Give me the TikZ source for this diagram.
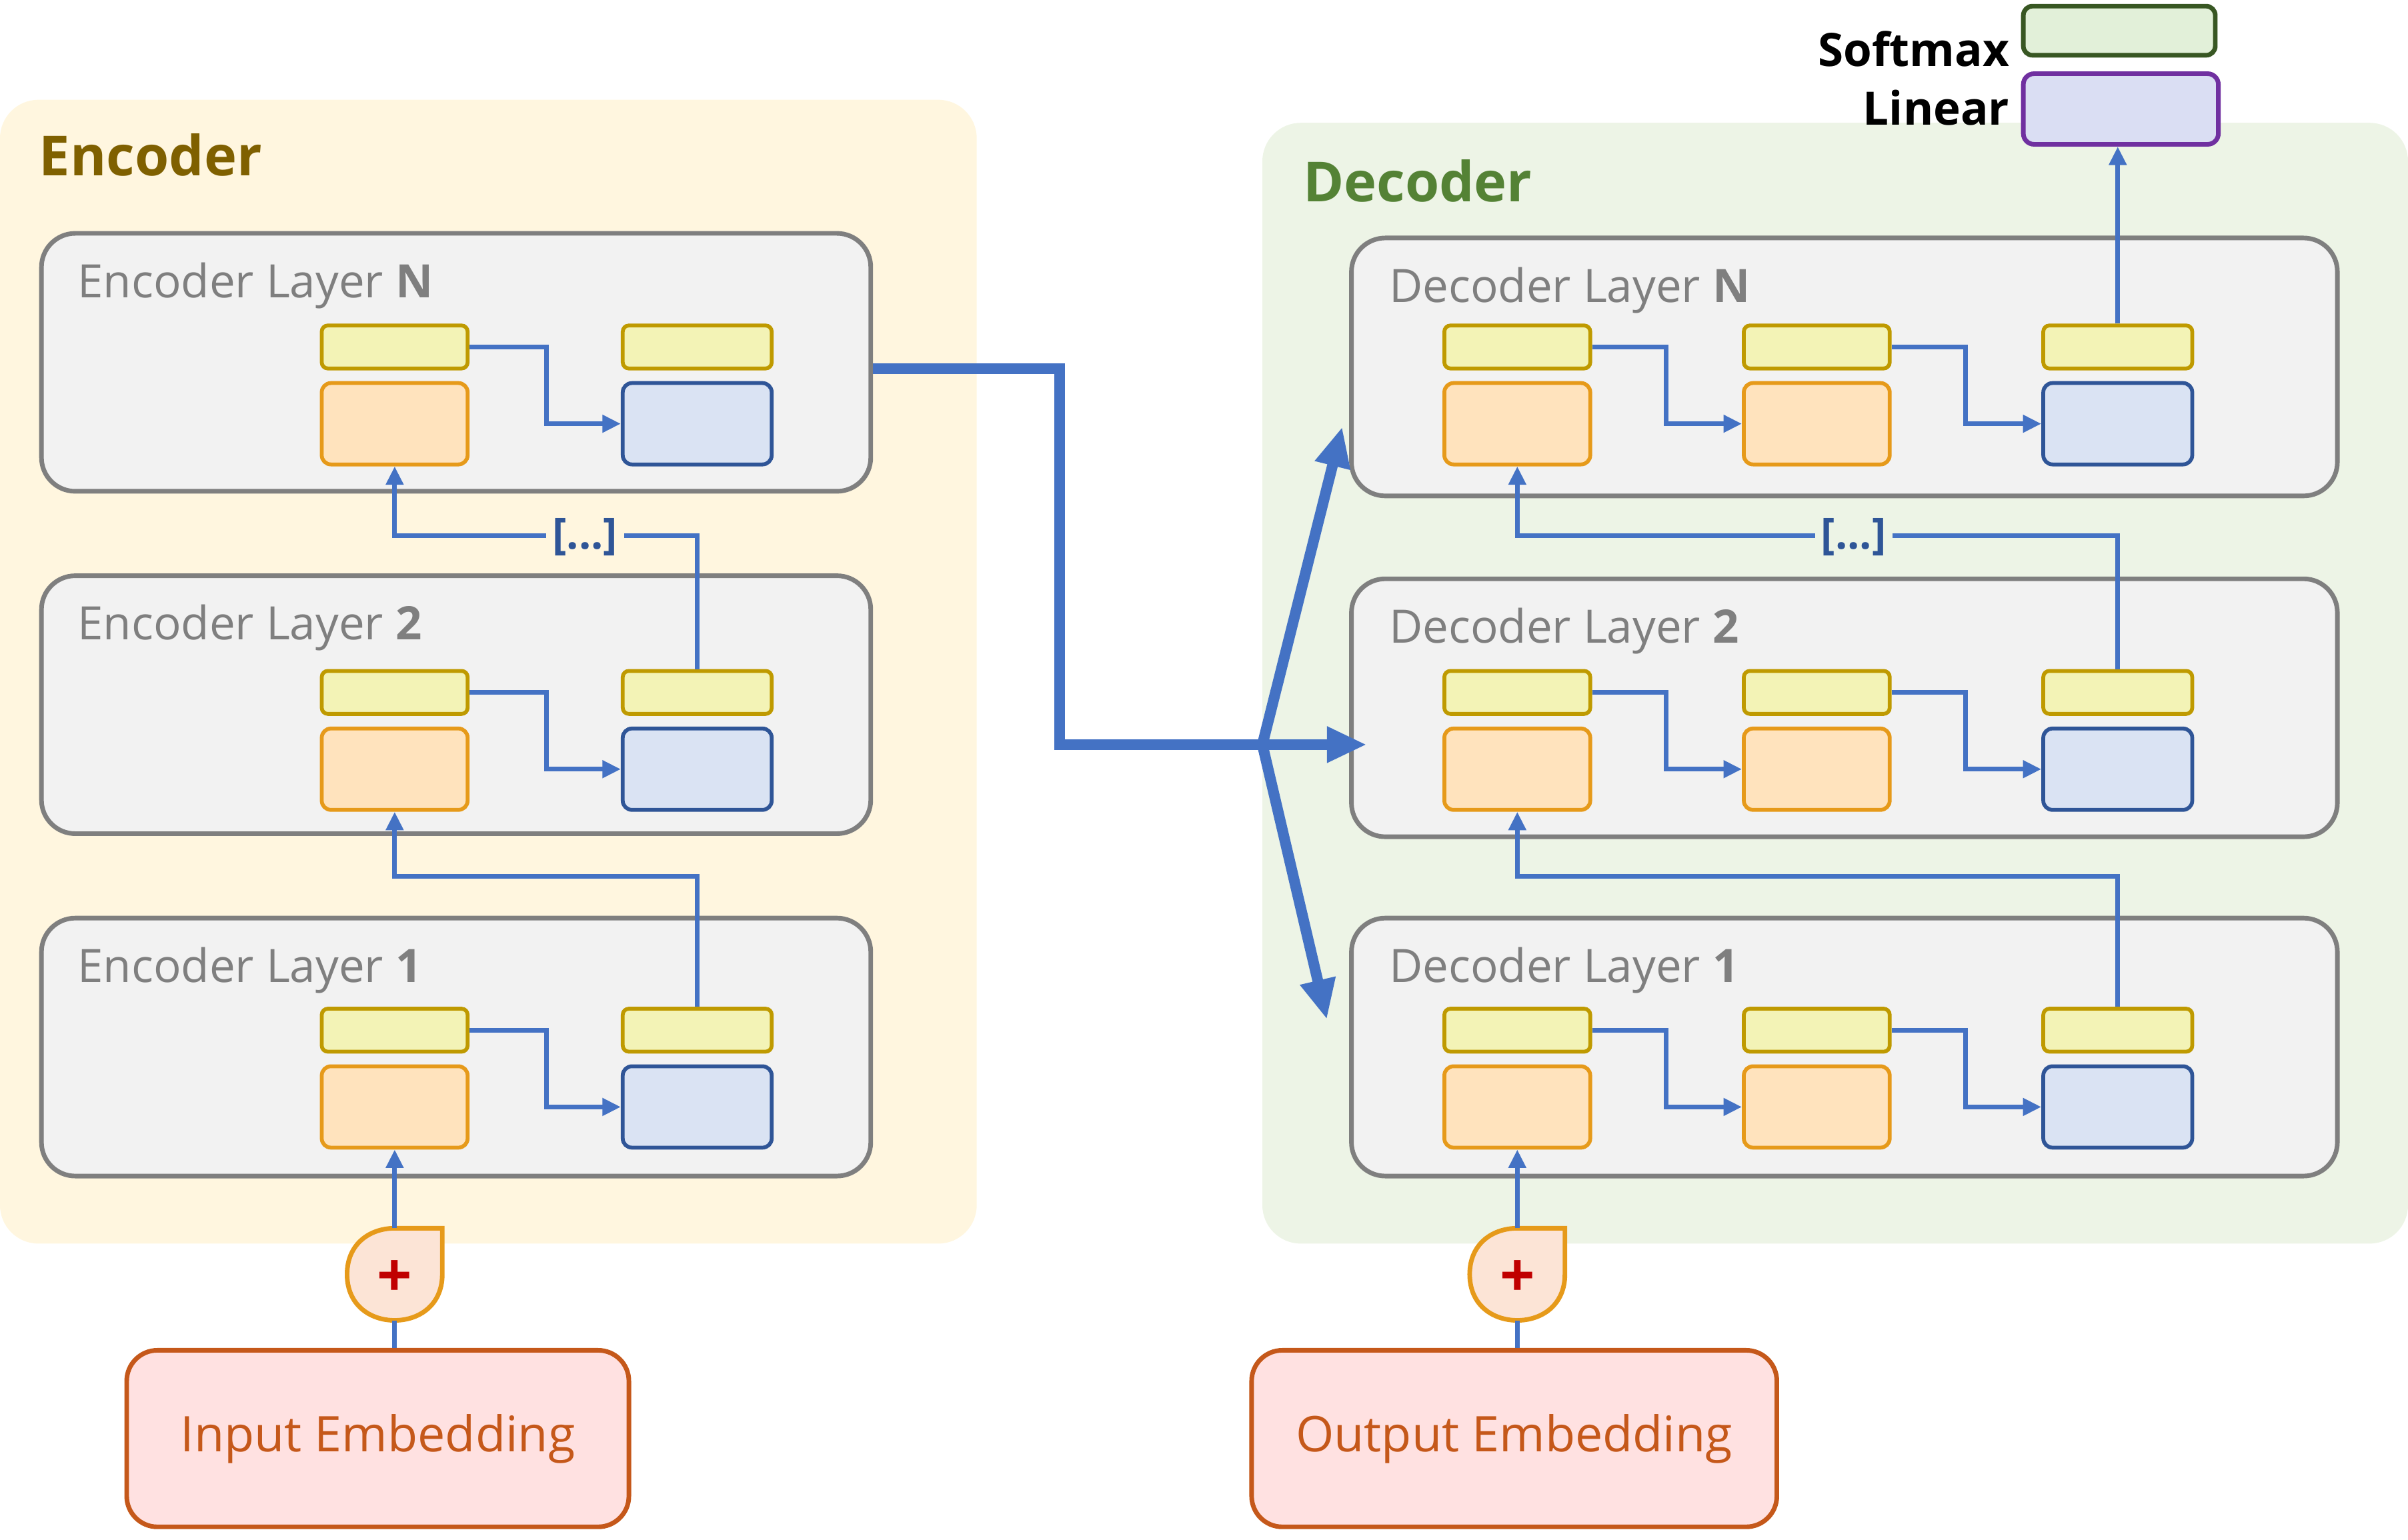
\documentclass[tikz,border=0pt]{standalone}
\usepackage{fontspec}
\setmainfont{Open Sans}
\usetikzlibrary{arrows.meta}
\definecolor{encbg}{HTML}{FFF6DF}
\definecolor{decbg}{HTML}{EDF4E6}
\definecolor{layf}{HTML}{F2F2F2}
\definecolor{layd}{HTML}{7F7F7F}
\definecolor{yf}{HTML}{F3F3B6}
\definecolor{yd}{HTML}{BF9A00}
\definecolor{of}{HTML}{FFE3BD}
\definecolor{od}{HTML}{E69A1A}
\definecolor{bf}{HTML}{DAE3F3}
\definecolor{bd}{HTML}{2F5597}
\definecolor{cn}{HTML}{4472C4}
\definecolor{embf}{HTML}{FFE1E1}
\definecolor{embd}{HTML}{C5581A}
\begin{document}
\begin{tikzpicture}[x=1pt,y=-1pt,
 layer/.style={draw=layd,fill=layf,line width=3pt,rounded corners=22pt,inner sep=0},
 yb/.style={draw=yd,fill=yf,line width=2.5pt,rounded corners=4pt,minimum width=95pt,minimum height=28pt,inner sep=0},
 ob/.style={draw=od,fill=of,line width=2.5pt,rounded corners=6pt,minimum width=95pt,minimum height=53pt,inner sep=0},
 bb/.style={draw=bd,fill=bf,line width=2.5pt,rounded corners=6pt,minimum width=97pt,minimum height=53pt,inner sep=0},
 conn/.style={draw=cn,line width=3pt,-{Triangle[length=12pt,width=11pt]}},
 big/.style={draw=cn,line width=7pt},
 lbl/.style={anchor=west,text=layd,font=\fontsize{30}{30}\selectfont},
 dots/.style={text=bd,font=\bfseries\fontsize{28}{28}\selectfont,inner sep=4pt},
 emb/.style={draw=embd,fill=embf,line width=3pt,rounded corners=20pt,text=embd,font=\fontsize{32}{32}\selectfont,inner sep=0}]
\useasboundingbox (0,0) rectangle (1568,1003);
% backgrounds
\fill[encbg,rounded corners=25pt] (0,65) rectangle (636,810);
\fill[decbg,rounded corners=25pt] (822,80) rectangle (1568,810);
\node[anchor=west,text={rgb,255:red,127;green,96;blue,0},font=\bfseries\fontsize{36}{36}\selectfont] (enct) at (22,101) {Encoder};
\node[anchor=west,text={rgb,255:red,84;green,130;blue,53},font=\bfseries\fontsize{36}{36}\selectfont] (dect) at (845,118) {Decoder};
% encoder layers
\foreach \n/\t/\yy in {N/152/212, 2/375/437, 1/598/657}{
 \node[layer,minimum width=540pt,minimum height=168pt] (el\n) at (297,\t+84) {};
 \node[lbl] (elt\n) at (47,\t+34) {Encoder Layer \textbf{\n}};
 \node[yb] (ey\n) at (257,\yy+14) {};
 \node[ob] (eo\n) at (257,\yy+64) {};
 \node[yb,minimum width=97pt] (ery\n) at (454,\yy+14) {};
 \node[bb] (eb\n) at (454,\yy+64) {};
 \draw[conn] (ey\n.east) -- ++(50,0) |- (eb\n.west);
}
% decoder layers
\foreach \n/\t/\yy in {N/155/212, 2/377/437, 1/598/657}{
 \node[layer,minimum width=642pt,minimum height=168pt] (dl\n) at (1201,\t+84) {};
 \node[lbl] (dlt\n) at (901,\t+34) {Decoder Layer \textbf{\n}};
 \node[yb] (dya\n) at (988,\yy+14) {};
 \node[ob] (doa\n) at (988,\yy+64) {};
 \node[yb] (dyb\n) at (1183,\yy+14) {};
 \node[ob] (dob\n) at (1183,\yy+64) {};
 \node[yb,minimum width=97pt] (dyc\n) at (1379,\yy+14) {};
 \node[bb] (dbc\n) at (1379,\yy+64) {};
 \draw[conn] (dya\n.east) -- ++(48,0) |- (dob\n.west);
 \draw[conn] (dyb\n.east) -- ++(48,0) |- (dbc\n.west);
}
% inter-layer connections
\draw[conn] (ery1.north) -- ++(0,-85) -| (eo2.south);
\draw[conn] (ery2.north) -- ++(0,-87) -| (eoN.south);
\node[dots,fill=encbg] (ed) at (381,350) {[...]};
\draw[conn] (dyc1.north) -- ++(0,-85) -| (doa2.south);
\draw[conn] (dyc2.north) -- ++(0,-87) -| (doaN.south);
\node[dots,fill=decbg] (dd) at (1207,350) {[...]};
% softmax / linear
\node[draw={rgb,255:red,112;green,48;blue,160},fill={rgb,255:red,218;green,222;blue,243},line width=3pt,rounded corners=7pt,minimum width=127pt,minimum height=46pt,inner sep=0] (lin) at (1381,71) {};
\node[draw={rgb,255:red,56;green,87;blue,35},fill={rgb,255:red,226;green,240;blue,217},line width=3pt,rounded corners=6pt,minimum width=125pt,minimum height=32pt,inner sep=0] (sm) at (1380,20) {};
\node[anchor=east,font=\bfseries\fontsize{30}{30}\selectfont] (smt) at (1312,32) {Softmax};
\node[anchor=east,font=\bfseries\fontsize{30}{30}\selectfont] (lint) at (1312,70) {Linear};
\draw[conn] (dycN.north) -- (dycN.north |- lin.south);
% embeddings
\node[emb,minimum width=327pt,minimum height=115pt] (ie) at (246,937) {Input Embedding};
\node[emb,minimum width=342pt,minimum height=115pt] (oe) at (986,937) {Output Embedding};
\foreach \nm/\x in {ip/257, op/988}{
 \coordinate (\nm) at (\x,830);
 \draw[draw=od,fill={rgb,255:red,252;green,228;blue,214},line width=3pt] (\x+31,800) -- (\x+31,830) .. controls (\x+31,850) and (\x+16,860) .. (\x,860) .. controls (\x-16,860) and (\x-31,850) .. (\x-31,830) .. controls (\x-31,810) and (\x-16,800) .. (\x,800) -- cycle;
 \node[text={rgb,255:red,192;green,0;blue,0},font=\bfseries\fontsize{40}{40}\selectfont] (\nm t) at (\x,833) {+};
}
\draw[cn,line width=3pt] (ie.north -| ip) -- (257,860);
\draw[conn] (257,800) -- (eo1.south);
\draw[cn,line width=3pt] (oe.north -| op) -- (988,860);
\draw[conn] (988,800) -- (doa1.south);
% big arrows
\coordinate (split) at (822,485);
\coordinate (t2) at (890,485);
\coordinate (tN) at (874,278);
\coordinate (t1) at (864,664);
\draw[big] (elN.east |- 0,240) -- (690,240) |- (split);
\draw[big,-{Triangle[length=26pt,width=22pt]}] (split) -- (t2);
\draw[big,-{Triangle[length=26pt,width=22pt]}] (split) -- (tN);
\draw[big,-{Triangle[length=26pt,width=22pt]}] (split) -- (t1);
\end{tikzpicture}
\end{document}
